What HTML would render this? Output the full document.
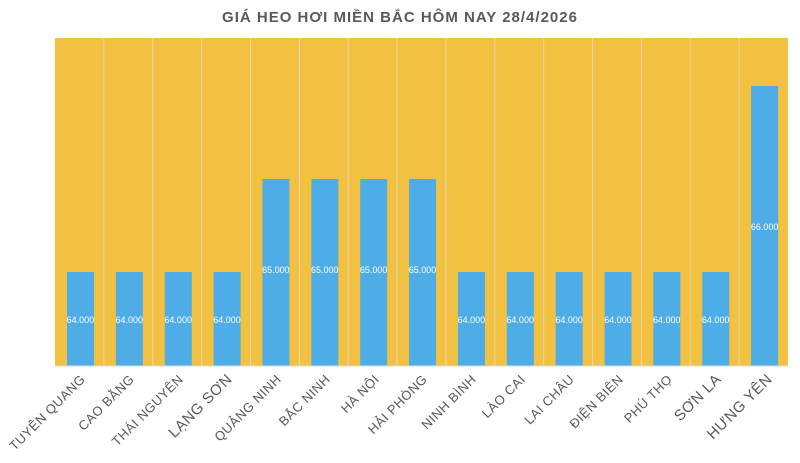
<!DOCTYPE html><html><head><meta charset="utf-8"><style>body{margin:0;background:#fff}svg{display:block}</style></head><body>
<svg width="800" height="463" xmlns="http://www.w3.org/2000/svg" font-family="Liberation Sans, DejaVu Sans, sans-serif">
<rect width="800" height="463" fill="#fff"/>
<text x="400" y="22" text-anchor="middle" font-size="15" font-weight="bold" fill="#595959" letter-spacing="1">GIÁ HEO HƠI MIỀN BẮC HÔM NAY 28/4/2026</text>
<rect x="55" y="38" width="733" height="328" fill="#F3C141"/>
<g stroke="#e6d7b0" stroke-width="1">
<line x1="103.87" y1="38" x2="103.87" y2="366"/><line x1="152.73" y1="38" x2="152.73" y2="366"/><line x1="201.6" y1="38" x2="201.6" y2="366"/><line x1="250.47" y1="38" x2="250.47" y2="366"/><line x1="299.33" y1="38" x2="299.33" y2="366"/><line x1="348.2" y1="38" x2="348.2" y2="366"/><line x1="397.07" y1="38" x2="397.07" y2="366"/><line x1="445.93" y1="38" x2="445.93" y2="366"/><line x1="494.8" y1="38" x2="494.8" y2="366"/><line x1="543.67" y1="38" x2="543.67" y2="366"/><line x1="592.53" y1="38" x2="592.53" y2="366"/><line x1="641.4" y1="38" x2="641.4" y2="366"/><line x1="690.27" y1="38" x2="690.27" y2="366"/><line x1="739.13" y1="38" x2="739.13" y2="366"/>
</g>
<g fill="#4EACE6">
<rect x="67" y="272" width="27" height="94"/><rect x="115.87" y="272" width="27" height="94"/><rect x="164.73" y="272" width="27" height="94"/><rect x="213.6" y="272" width="27" height="94"/>
<rect x="262.47" y="179" width="27" height="187"/><rect x="311.33" y="179" width="27" height="187"/><rect x="360.2" y="179" width="27" height="187"/><rect x="409.07" y="179" width="27" height="187"/>
<rect x="457.93" y="272" width="27" height="94"/><rect x="506.8" y="272" width="27" height="94"/><rect x="555.67" y="272" width="27" height="94"/><rect x="604.53" y="272" width="27" height="94"/><rect x="653.4" y="272" width="27" height="94"/><rect x="702.27" y="272" width="27" height="94"/>
<rect x="751.13" y="86" width="27" height="280"/>
</g>
<g font-size="9" fill="#fff" text-anchor="middle">
<text x="80.4" y="323">64.000</text><text x="129.3" y="323">64.000</text><text x="178.2" y="323">64.000</text><text x="227" y="323">64.000</text>
<text x="275.9" y="273">65.000</text><text x="324.8" y="273">65.000</text><text x="373.6" y="273">65.000</text><text x="422.5" y="273">65.000</text>
<text x="471.4" y="323">64.000</text><text x="520.2" y="323">64.000</text><text x="569.1" y="323">64.000</text><text x="618" y="323">64.000</text><text x="666.8" y="323">64.000</text><text x="715.7" y="323">64.000</text>
<text x="764.6" y="230">66.000</text>
</g>
<g font-size="13" fill="#595959" text-anchor="end" letter-spacing="0.5">
<text transform="translate(86,380) rotate(-45)">TUYÊN QUANG</text>
<text transform="translate(135,380) rotate(-45)">CAO BẰNG</text>
<text transform="translate(184,380) rotate(-45)">THÁI NGUYÊN</text>
<text transform="translate(233,380) rotate(-45)" font-size="15">LẠNG SƠN</text>
<text transform="translate(282,380) rotate(-45)">QUẢNG NINH</text>
<text transform="translate(331,380) rotate(-45)">BẮC NINH</text>
<text transform="translate(380,380) rotate(-45)">HÀ NỘI</text>
<text transform="translate(428,380) rotate(-45)">HẢI PHÒNG</text>
<text transform="translate(477,380) rotate(-45)">NINH BÌNH</text>
<text transform="translate(526,380) rotate(-45)">LÀO CAI</text>
<text transform="translate(575,380) rotate(-45)">LAI CHÂU</text>
<text transform="translate(624,380) rotate(-45)">ĐIỆN BIÊN</text>
<text transform="translate(673,380) rotate(-45)">PHÚ THỌ</text>
<text transform="translate(722,380) rotate(-45)" font-size="15">SƠN LA</text>
<text transform="translate(773,380) rotate(-45)" font-size="15">HƯNG YÊN</text>
</g>
<line x1="55" y1="366" x2="788" y2="366" stroke="#ddd"/>
</svg></body></html>
